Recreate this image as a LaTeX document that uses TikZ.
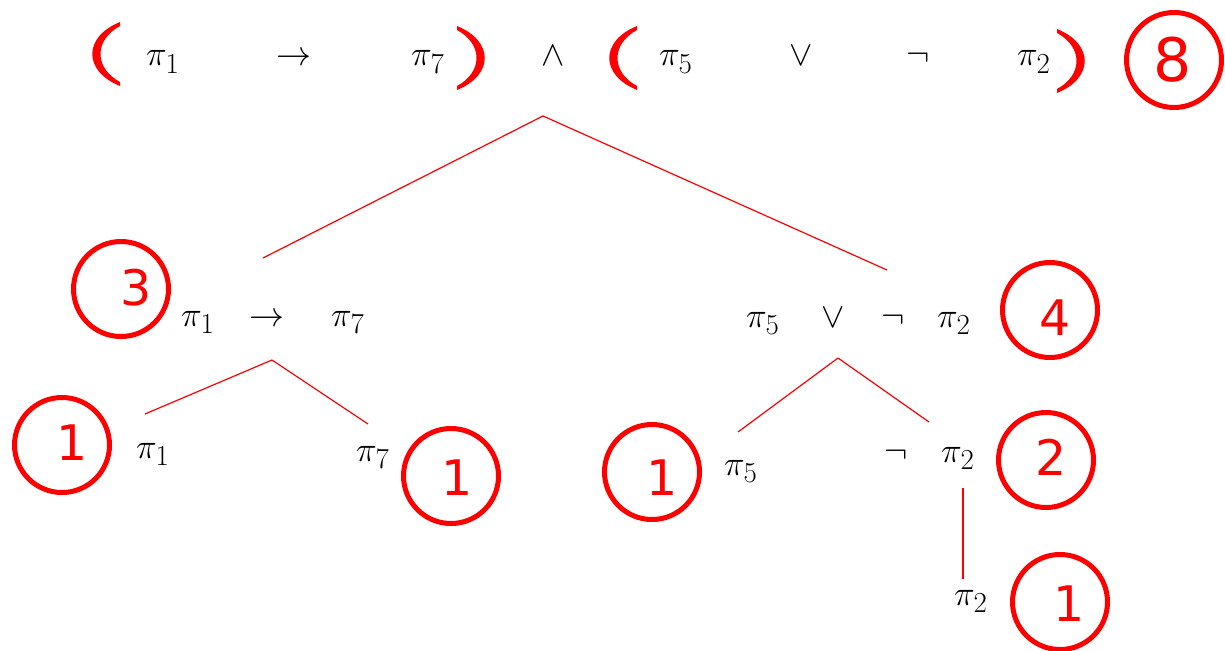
\documentclass[tikz,border=0pt]{standalone}
\usepackage{fix-cm}
\usepackage{fontspec}
\newfontfamily\digitfont{DejaVu Sans}
\newcommand\sbx[1]{\mbox{\fontsize{29}{29}\selectfont #1}}
\tikzset{
  sym/.style={anchor=base west, inner sep=0pt, font=\fontsize{35}{42}\selectfont},
  ring/.style={circle, draw=red, line width=5pt, minimum size=95pt, inner sep=0pt},
  digit/.style={inner sep=0pt, text=red, font=\digitfont\fontsize{49}{56}\selectfont},
  bigdigit/.style={inner sep=0pt, text=red, font=\digitfont\fontsize{60}{68}\selectfont},
  edge/.style={draw=red, line width=1.2pt},
  lpar/.pic={\fill[red] (0,-32) .. controls (-37,-17) and (-37,17) .. (0,32) -- (0,28) .. controls (-26,14) and (-26,-14) .. (0,-28) -- cycle;},
  rpar/.pic={\fill[red] (0,-32) .. controls (37,-17) and (37,17) .. (0,32) -- (0,28) .. controls (26,14) and (26,-14) .. (0,-28) -- cycle;}
}
\begin{document}
\begin{tikzpicture}[x=1pt,y=-1pt]
\useasboundingbox (0,0) rectangle (1225,650);
% top row
\pic at (120,54) {lpar};
\node[sym] (a1) at (146,66) {$\pi_{\sbx{1}}$};
\node[sym] (a2) at (276,66) {$\rightarrow$};
\node[sym] (a3) at (411,66) {$\pi_{\sbx{7}}$};
\pic at (457,58) {rpar};
\node[sym] (a4) at (541,66) {$\wedge$};
\pic at (637,58) {lpar};
\node[sym] (a5) at (659,66) {$\pi_{\sbx{5}}$};
\node[sym] (a6) at (789,66) {$\vee$};
\node[sym] (a7) at (906,66) {$\neg$};
\node[sym] (a8) at (1017,66) {$\pi_{\sbx{2}}$};
\pic at (1057,61) {rpar};
\node[ring] (c8) at (1174,60) {};
\node[bigdigit] (d8) at (1173,60) {8};
% second row left
\node[ring] (c3) at (121,289) {};
\node[digit] (d3) at (136,288) {3};
\node[sym] (b1) at (181,326) {$\pi_{\sbx{1}}$};
\node[sym] (b2) at (249,326) {$\rightarrow$};
\node[sym] (b3) at (331,326) {$\pi_{\sbx{7}}$};
% second row right
\node[sym] (b4) at (746,327) {$\pi_{\sbx{5}}$};
\node[sym] (b5) at (821,327) {$\vee$};
\node[sym] (b6) at (881,327) {$\neg$};
\node[sym] (b7) at (937,327) {$\pi_{\sbx{2}}$};
\node[ring] (c4) at (1050,310) {};
\node[digit] (d4) at (1055,318) {4};
% third row
\node[ring] (c1a) at (62,445) {};
\node[digit] (d1a) at (72,443) {1};
\node[sym] (e1) at (136,458) {$\pi_{\sbx{1}}$};
\node[sym] (e2) at (356,461) {$\pi_{\sbx{7}}$};
\node[ring] (c1b) at (451,476) {};
\node[digit] (d1b) at (457,478) {1};
\node[ring] (c1c) at (652,472) {};
\node[digit] (d1c) at (662,478) {1};
\node[sym] (e3) at (724,475) {$\pi_{\sbx{5}}$};
\node[sym] (e4) at (884,462) {$\neg$};
\node[sym] (e5) at (941,462) {$\pi_{\sbx{2}}$};
\node[ring] (c2) at (1046,460) {};
\node[digit] (d2) at (1051,457) {2};
% fourth row
\node[sym] (f1) at (954,605) {$\pi_{\sbx{2}}$};
\node[ring] (c1d) at (1060,602) {};
\node[digit] (d1d) at (1069,604) {1};
% connector points
\coordinate (p0) at (543,116);
\coordinate (pl) at (263,258);
\coordinate (pr) at (887,270);
\coordinate (q0) at (272,360);
\coordinate (ql) at (145,414);
\coordinate (qr) at (368,424);
\coordinate (r0) at (838,358);
\coordinate (rl) at (738,432);
\coordinate (rr) at (929,422);
\coordinate (s0) at (963,488);
\coordinate (s1) at (963,579);
\draw[edge] (p0) -- (pl);
\draw[edge] (p0) -- (pr);
\draw[edge] (q0) -- (ql);
\draw[edge] (q0) -- (qr);
\draw[edge] (r0) -- (rl);
\draw[edge] (r0) -- (rr);
\draw[edge] (s0) -- (s1);
\end{tikzpicture}
\end{document}
